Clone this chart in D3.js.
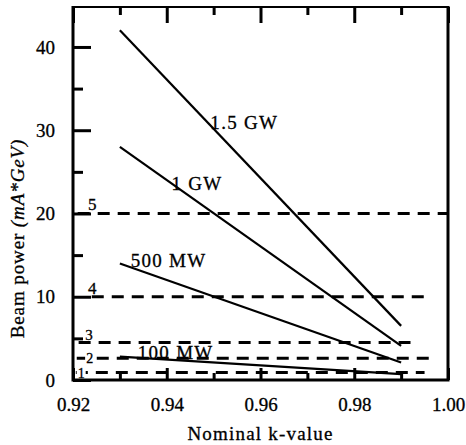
<!DOCTYPE html>
<html>
<head>
<meta charset="utf-8">
<script src="https://cdn.jsdelivr.net/npm/d3@7"></script>
<style>
  body { margin: 0; background: #fff; }
  text { font-family: "Liberation Serif", "Times New Roman", serif; fill: #000; stroke: #000; stroke-width: 0.3px; }
</style>
</head>
<body>
<script>
// power curves: beam power vs nominal k-value
const seriesNames = ["1.5 GW", "1 GW", "500 MW", "100 MW"];
const kValues = [0.93, 0.99];
const power15GW = [42, 6.5];
const power1GW = [28, 4.1];
const power500MW = [14, 2.1];
const power100MW = [2.8, 0.7];
// label anchor for each curve (k, value)
const curveLabelK = [0.9493, 0.9410, 0.9323, 0.9338];
const curveLabelY = [30.2, 22.8, 13.6, 2.5];

// dashed reference levels
const levelNames = ["5", "4", "3", "2", "1"];
const levelValues = [20, 10, 4.5, 2.6, 0.9];
const levelStart = [0.921, 0.924, 0.9212, 0.9208, 0.9206];
const levelEnd = [1.0, 0.996, 0.992, 0.996, 0.995];
const levelLabelK = [0.9232, 0.9232, 0.9226, 0.9228, 0.921];

const xTicks = [0.92, 0.94, 0.96, 0.98, 1.00];
const xMinor = [0.93, 0.95, 0.97, 0.99];
const yTicks = [0, 10, 20, 30, 40];
const yMinor = [5, 15, 25, 35];

const width = 466, height = 445;
const margin = {top: 7, right: 18, bottom: 65, left: 73};

const svg = d3.select("body").append("svg")
  .attr("width", width)
  .attr("height", height);

const x = d3.scaleLinear().domain([0.92, 1.00]).range([margin.left, width - margin.right]);
const y = d3.scaleLinear().domain([0, 44.8]).range([height - margin.bottom, margin.top]);

// ticks (all pointing inward)
svg.append("g").attr("transform", `translate(${margin.left},0)`)
  .call(d3.axisLeft(y).tickValues(yTicks).tickSizeInner(-18).tickSizeOuter(0).tickPadding(18).tickFormat(d3.format("d")));
svg.append("g").attr("transform", `translate(${margin.left},0)`)
  .call(d3.axisLeft(y).tickValues(yMinor).tickSize(-10).tickFormat(""));

svg.append("g").attr("transform", `translate(0,${height - margin.bottom})`)
  .call(d3.axisBottom(x).tickValues(xTicks).tickSizeInner(-12).tickSizeOuter(0).tickPadding(18).tickFormat(d3.format(".2f")));
svg.append("g").attr("transform", `translate(0,${height - margin.bottom})`)
  .call(d3.axisBottom(x).tickValues(xMinor).tickSize(-7).tickFormat(""));

svg.append("g").attr("transform", `translate(0,${margin.top})`)
  .call(d3.axisTop(x).tickValues(xTicks).tickSize(-16).tickFormat(""));
svg.append("g").attr("transform", `translate(0,${margin.top})`)
  .call(d3.axisTop(x).tickValues(xMinor).tickSize(-8).tickFormat(""));

svg.selectAll(".domain").remove();
svg.selectAll(".tick line").attr("stroke", "#000").attr("stroke-width", 3);
svg.selectAll(".tick text").style("font-size", "19px").attr("fill", "#000");

// frame
const fx0 = x(0.92), fx1 = x(1.00), fy0 = y(0), fy1 = y(44.8);
svg.append("line").attr("x1", fx0).attr("x2", fx1).attr("y1", fy1).attr("y2", fy1)
  .attr("stroke", "#000").attr("stroke-width", 2);

// dashed levels
levelValues.forEach((v, i) => {
  svg.append("line")
    .attr("x1", x(levelStart[i])).attr("x2", x(levelEnd[i]))
    .attr("y1", y(v)).attr("y2", y(v))
    .attr("stroke", "#000").attr("stroke-width", 3)
    .attr("stroke-dasharray", "12,8");
});

// level labels: upper ones sit above their line, lowest two sit on it
levelValues.forEach((v, i) => {
  const onLine = i >= 3;
  const t = svg.append("text")
    .attr("x", x(levelLabelK[i]))
    .attr("y", onLine ? y(v) + 5 : y(v) - 3)
    .style("font-size", i < 2 ? "17px" : (onLine ? "14px" : "15px"))
    .text(levelNames[i]);
  if (onLine) {
    const b = t.node().getBBox();
    svg.insert("rect", () => t.node())
      .attr("x", b.x - 1).attr("y", y(v) - 3)
      .attr("width", b.width + 2).attr("height", 6)
      .attr("fill", "#fff");
  }
});

svg.append("path").attr("d", `M${fx0},${fy1 - 1}V${fy0}H${fx1}V${fy1 - 1}`)
  .attr("fill", "none").attr("stroke", "#000").attr("stroke-width", 3);

// power curves
const curves = [power15GW, power1GW, power500MW, power100MW];
const line = d3.line().x(d => x(d[0])).y(d => y(d[1]));
curves.forEach((vals, i) => {
  svg.append("path")
    .attr("d", line(kValues.map((k, j) => [k, vals[j]])))
    .attr("fill", "none").attr("stroke", "#000").attr("stroke-width", 2.2);
  svg.append("text")
    .attr("x", x(curveLabelK[i])).attr("y", y(curveLabelY[i]))
    .style("font-size", "19px")
    .style("letter-spacing", "1.3px")
    .text(seriesNames[i]);
});

// axis titles
svg.append("text")
  .attr("x", (fx0 + fx1) / 2).attr("y", 440)
  .attr("text-anchor", "middle")
  .style("font-size", "19px")
  .style("letter-spacing", "1.2px")
  .text("Nominal k-value");

const yt = svg.append("text")
  .attr("transform", `translate(24,${(fy0 + fy1) / 2 + 45}) rotate(-90)`)
  .attr("text-anchor", "middle")
  .style("font-size", "19px")
  .style("letter-spacing", "0.9px");
yt.append("tspan").text("Beam power ");
yt.append("tspan").style("font-style", "italic").text("(mA*GeV)");
</script>
</body>
</html>
